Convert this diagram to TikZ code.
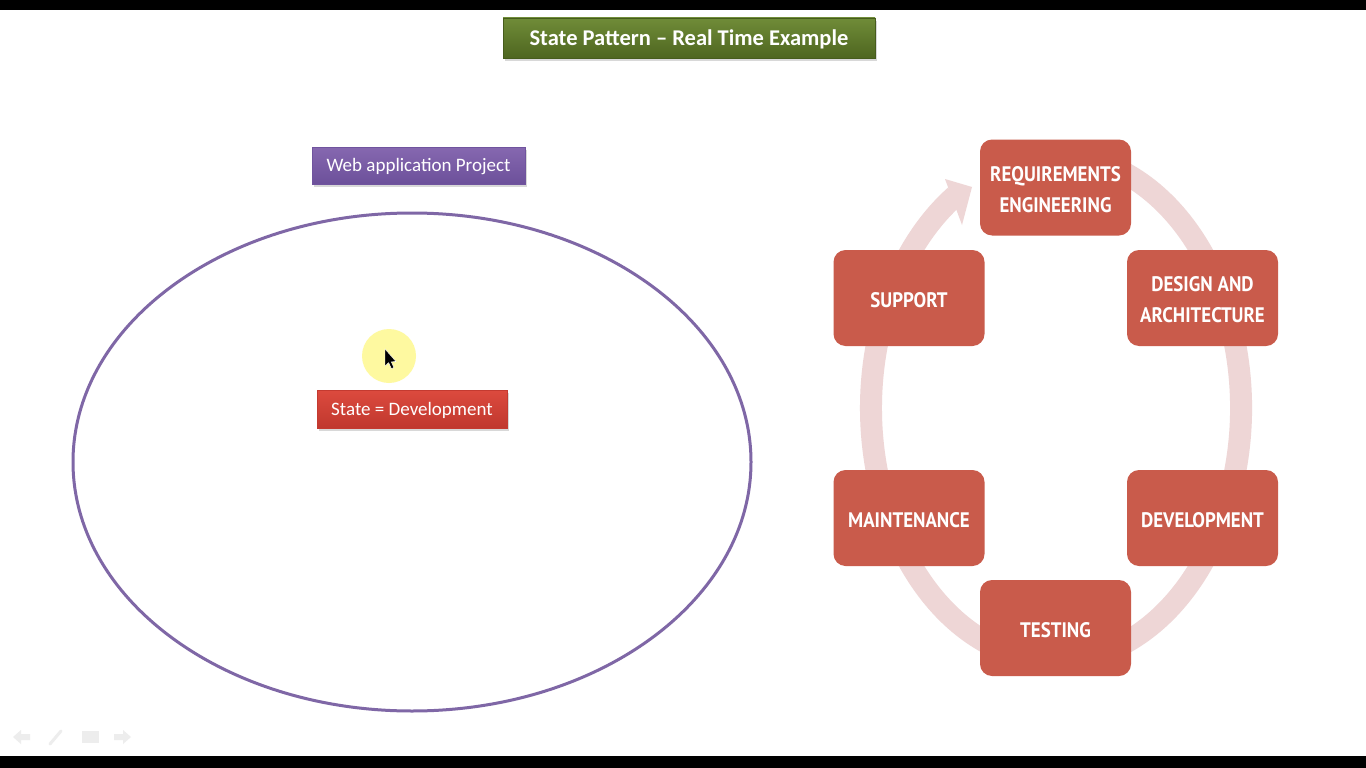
\documentclass[tikz,border=0pt]{standalone}
\usepackage{fontspec}
\setmainfont{Carlito}
\newfontfamily\dinfont[FakeStretch=0.9]{PT Sans}
\usetikzlibrary{shadows,calc}
\definecolor{ringpink}{HTML}{EED6D6}
\definecolor{cyclered}{HTML}{C95B4B}
\definecolor{ellpurple}{HTML}{7F67A6}
\definecolor{glow}{HTML}{FEF9A0}
\definecolor{navgray}{HTML}{EDEDED}
\definecolor{greenedge}{RGB}{70,92,28}
\definecolor{greentop}{RGB}{112,140,56}
\definecolor{greenbot}{RGB}{78,102,32}
\definecolor{purpedge}{RGB}{112,84,158}
\definecolor{purptop}{RGB}{134,104,176}
\definecolor{purpbot}{RGB}{108,80,154}
\definecolor{rededge}{RGB}{196,58,48}
\definecolor{redtop}{RGB}{220,74,62}
\definecolor{redbot}{RGB}{192,56,46}
\tikzset{
  banner/.style={draw=#1, line width=0.5pt, text=white, inner sep=0pt,
    drop shadow={opacity=0.3, shadow xshift=2pt, shadow yshift=-3pt}},
  cyclebox/.style={rounded corners=12pt, fill=cyclered, minimum width=151pt,
    minimum height=96pt, inner sep=0pt},
  cycletext/.style={text=white, align=center, inner sep=0pt,
    font=\dinfont\bfseries\fontsize{21}{31}\selectfont},
  ringline/.style={draw=ringpink, line width=22pt}
}
\begin{document}
\begin{tikzpicture}[x=1pt,y=-1pt]
\useasboundingbox (0,0) rectangle (1366,768);
\fill[white] (0,0) rectangle (1366,768);
\fill[black] (0,0) rectangle (1366,10);
\fill[black] (0,756) rectangle (1366,768);

% title
\node[banner=greenedge, top color=greentop, bottom color=greenbot,
  minimum width=372pt, minimum height=40pt, text height=18.5pt, text depth=4pt,
  font=\bfseries\fontsize{22.5}{26}\selectfont] (title) at (689,38) {State Pattern -- Real Time Example};

% web application project
\node[banner=purpedge, top color=purptop, bottom color=purpbot,
  minimum width=213pt, minimum height=37pt, text height=16pt, text depth=4pt,
  font=\fontsize{19}{22}\selectfont] (web) at (418.5,165.5) {Web application Project};

% ellipse
\draw[ellpurple, line width=3pt] (412,462) ellipse [x radius=339, y radius=249];

% cursor glow and pointer
\fill[glow] (389,356) circle[radius=27];
\fill[black, draw=white, line width=0.4pt] (385,349) -- (385,366) -- (388.7,362.6) -- (391.4,368.6) -- (393.9,367.5) -- (391.2,361.8) -- (396,361.6) -- cycle;

% state node
\node[banner=rededge, top color=redtop, bottom color=redbot,
  minimum width=190pt, minimum height=38pt, text height=16pt, text depth=4pt,
  font=\fontsize{19}{22}\selectfont] (state) at (412,409) {State = Development};

% cycle ring
\draw[ringline] (1119.3,170.3) arc[start angle=-70, end angle=237, x radius=185, y radius=253];
\fill[ringpink] (945,179) -- (972,187) -- (962,225) -- cycle;

% cycle boxes
\node[cyclebox] (req) at (1055.5,187.5) {};
\node[cyclebox] (design) at (1202.5,298) {};
\node[cyclebox] (dev) at (1202.5,518) {};
\node[cyclebox] (test) at (1055.5,628) {};
\node[cyclebox] (maint) at (909,518) {};
\node[cyclebox] (support) at (909,298) {};
\node[cycletext] (reqt) at ($(req)+(0,2.5)$) {REQUIREMENTS\\ENGINEERING};
\node[cycletext] (designt) at ($(design)+(0,1.5)$) {DESIGN AND\\ARCHITECTURE};
\node[cycletext] (devt) at ($(dev)+(0,2.5)$) {DEVELOPMENT};
\node[cycletext] (testt) at ($(test)+(0,2.5)$) {TESTING};
\node[cycletext] (maintt) at ($(maint)+(0,2.5)$) {MAINTENANCE};
\node[cycletext] (supportt) at ($(support)+(0,2.5)$) {SUPPORT};

% faint navigation icons
\fill[navgray] (13,737) -- (21,730) -- (21,734) -- (30,734) -- (30,740) -- (21,740) -- (21,744) -- cycle;
\draw[navgray, line width=3pt, line cap=round] (50,744) -- (61,731);
\fill[navgray] (82,731) rectangle (99,743);
\fill[navgray] (131,737) -- (123,730) -- (123,734) -- (114,734) -- (114,740) -- (123,740) -- (123,744) -- cycle;
\end{tikzpicture}
\end{document}
